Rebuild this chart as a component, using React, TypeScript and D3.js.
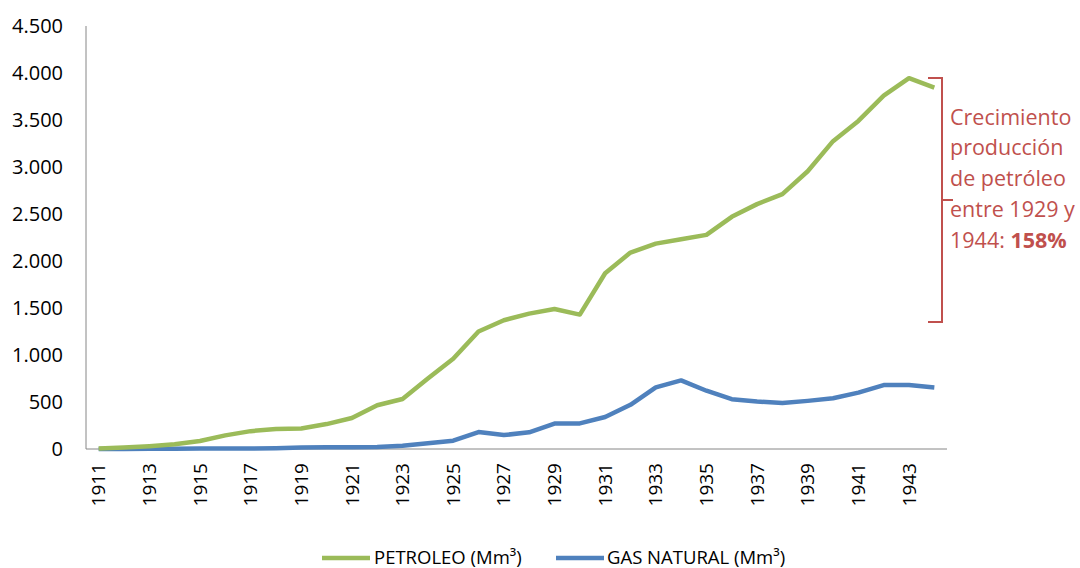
import React from "react";
import * as d3 from "d3";

const years: number[] = d3.range(1911, 1945);
const petroleo: number[] = [
  5, 15, 30, 50, 85, 145, 190, 212, 218, 265, 330, 465, 532, 750, 960,
  1250, 1370, 1440, 1490, 1430, 1870, 2090, 2185, 2232, 2278, 2470, 2605,
  2712, 2955, 3275, 3490, 3760, 3945, 3845,
];
const gasNatural: number[] = [
  0, 0, 2, 3, 4, 5, 6, 8, 15, 18, 18, 22, 35, 60, 88,
  180, 148, 178, 270, 272, 340, 470, 655, 730, 620, 530, 505, 490, 512,
  540, 600, 680, 680, 655,
];
const yTicks: number[] = [0, 500, 1000, 1500, 2000, 2500, 3000, 3500, 4000, 4500];
const xTickYears: number[] = years.filter((y) => (y - 1911) % 2 === 0);
const seriesNames: string[] = ["PETROLEO (Mm³)", "GAS NATURAL (Mm³)"];
const annotationLines: string[] = ["Crecimiento", "producción", "de petróleo", "entre 1929 y"];
const bracketRange: number[] = [1351, 3947];

const W = 1080;
const H = 568;
const left = 86;
const right = 947;
const top = 26;
const bottom = 449;
const GREEN = "#9BBB59";
const BLUE = "#4F81BD";
const RED = "#C0504D";
const FONT = "'Open Sans', 'Liberation Sans', sans-serif";

export default function App() {
  const x = d3.scaleBand<number>().domain(years).range([left, right]);
  const xc = (yr: number) => (x(yr) as number) + x.bandwidth() / 2;
  const y = d3.scaleLinear().domain([0, 4500]).range([bottom, top]);
  const line = d3
    .line<number>()
    .x((_, i) => xc(years[i]))
    .y((d) => y(d));

  const fmt = (v: number) => d3.format(",")(v).replace(/,/g, ".");

  const bTop = y(bracketRange[1]);
  const bBot = y(bracketRange[0]);
  const bX = 942;
  const bMid = (bTop + bBot) / 2;

  return (
    <svg width={W} height={H} style={{ position: "absolute", left: 0, top: 0 }}>
      <rect width={W} height={H} fill="#fff" />
      <line x1={left} x2={left} y1={top} y2={bottom} stroke="#868686" strokeWidth={1} />
      <line x1={left} x2={right} y1={bottom} y2={bottom} stroke="#868686" strokeWidth={1} />
      {yTicks.map((t) => (
        <text
          key={t}
          x={63}
          y={y(t)}
          dy="0.35em"
          textAnchor="end"
          fontFamily={FONT}
          fontSize={20}
          fill="#000"
        >
          {fmt(t)}
        </text>
      ))}
      {xTickYears.map((yr) => (
        <text
          key={yr}
          transform={`translate(${xc(yr)},${463}) rotate(-90)`}
          dy="0.35em"
          textAnchor="end"
          fontFamily={FONT}
          fontSize={19}
          fill="#000"
        >
          {yr}
        </text>
      ))}
      <path d={line(gasNatural) || ""} fill="none" stroke={BLUE} strokeWidth={4.5} strokeLinejoin="round" />
      <path d={line(petroleo) || ""} fill="none" stroke={GREEN} strokeWidth={4.5} strokeLinejoin="round" />
      <path
        d={`M${bX - 14},${bTop} H${bX} V${bBot} H${bX - 14} M${bX},${bMid} H${bX + 11}`}
        fill="none"
        stroke={RED}
        strokeWidth={2}
      />
      {annotationLines.map((s, i) => (
        <text key={i} x={950} y={117 + i * 30.8} dy="0.35em" fontFamily={FONT} fontSize={21.5} fill={RED}>
          {s}
        </text>
      ))}
      <text x={950} y={117 + 4 * 30.8} dy="0.35em" fontFamily={FONT} fontSize={21.5} fill={RED}>
        1944: <tspan fontWeight="bold">158%</tspan>
      </text>
      <line x1={322} x2={370} y1={558} y2={558} stroke={GREEN} strokeWidth={4.5} />
      <text x={374} y={558} dy="0.35em" fontFamily={FONT} fontSize={18.5} fill="#000">
        {seriesNames[0]}
      </text>
      <line x1={556} x2={604} y1={558} y2={558} stroke={BLUE} strokeWidth={4.5} />
      <text x={607} y={558} dy="0.35em" fontFamily={FONT} fontSize={18.5} fill="#000">
        {seriesNames[1]}
      </text>
    </svg>
  );
}
